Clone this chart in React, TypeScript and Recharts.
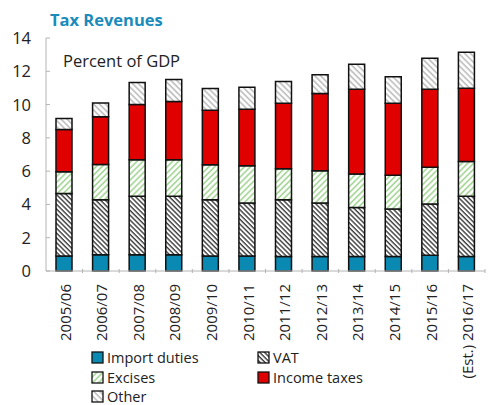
import {
  ComposedChart,
  Bar,
  XAxis,
  YAxis,
  Legend,
} from "recharts";

const years = [
  "2005/06",
  "2006/07",
  "2007/08",
  "2008/09",
  "2009/10",
  "2010/11",
  "2011/12",
  "2012/13",
  "2013/14",
  "2014/15",
  "2015/16",
  "(Est.) 2016/17",
];

const importDuties = [0.9, 0.97, 0.97, 0.97, 0.9, 0.9, 0.87, 0.87, 0.87, 0.87, 0.95, 0.87];
const vat = [3.75, 3.31, 3.52, 3.52, 3.38, 3.18, 3.41, 3.21, 2.95, 2.85, 3.07, 3.62];
const excises = [1.31, 2.12, 2.19, 2.19, 2.1, 2.24, 1.86, 1.95, 2.01, 2.03, 2.22, 2.09];
const incomeTaxes = [2.54, 2.87, 3.32, 3.5, 3.28, 3.4, 3.94, 4.63, 5.09, 4.33, 4.68, 4.4];
const other = [0.67, 0.83, 1.33, 1.32, 1.3, 1.32, 1.31, 1.13, 1.51, 1.59, 1.86, 2.16];

const yTicks = [0, 2, 4, 6, 8, 10, 12, 14];

const chartData = years.map((year, i) => ({
  year,
  importDuties: importDuties[i],
  vat: vat[i],
  excises: excises[i],
  incomeTaxes: incomeTaxes[i],
  other: other[i],
}));

const FONT = "'Open Sans', sans-serif";
const AXIS = "#b4b4b4";
const TEAL = "#0a8ab2";
const RED = "#e00000";
const BAND = (485 - 46) / years.length;

const legendItems = [
  { label: "Import duties", fill: TEAL },
  { label: "VAT", fill: "url(#vatPat)" },
  { label: "Excises", fill: "url(#excPat)" },
  { label: "Income taxes", fill: RED },
  { label: "Other", fill: "url(#othPat)" },
];

function YTick(props: any) {
  const { x, y, payload } = props;
  return (
    <g>
      <line x1={x} x2={x + 4} y1={y} y2={y} stroke={AXIS} strokeWidth={1} />
      <text
        x={x - 15}
        y={y}
        dy="0.36em"
        textAnchor="end"
        fontSize={16.5}
        fontFamily={FONT}
        fill="#222"
      >
        {payload.value}
      </text>
    </g>
  );
}

function XTick(props: any) {
  const { x, y, payload } = props;
  return (
    <g>
      <line x1={x + BAND / 2} x2={x + BAND / 2} y1={y} y2={y - 4} stroke={AXIS} strokeWidth={1} />
      <text
        x={0}
        y={0}
        transform={`translate(${x + 1},${y + 11}) rotate(-90)`}
        dy="0.36em"
        textAnchor="end"
        fontSize={15}
        fontFamily={FONT}
        fill="#222"
      >
        {payload.value}
      </text>
    </g>
  );
}

function LegendBox() {
  return (
    <div
      style={{
        display: "grid",
        gridTemplateColumns: "166px 180px",
        fontFamily: FONT,
        fontSize: 14.5,
        color: "#222",
        lineHeight: "19.5px",
      }}
    >
      {legendItems.map((item) => (
        <div key={item.label} style={{ display: "flex", alignItems: "center", whiteSpace: "nowrap", height: 19.5 }}>
          <svg width={13} height={13} style={{ marginRight: 3 }}>
            <rect x={1} y={1} width={11} height={11} fill={item.fill} stroke="#111" strokeWidth={1.3} />
          </svg>
          {item.label}
        </div>
      ))}
    </div>
  );
}

export default function App() {
  return (
    <div style={{ position: "absolute", left: 0, top: 0, width: 491, height: 405, background: "#fff", overflow: "hidden" }}>
      <div
        style={{
          position: "absolute",
          left: 50,
          top: 8,
          fontFamily: FONT,
          fontWeight: 700,
          fontSize: 16.5,
          color: "#1a8bbb",
        }}
      >
        Tax Revenues
      </div>
      <div
        style={{
          position: "absolute",
          left: 63,
          top: 49,
          fontFamily: FONT,
          fontSize: 16.5,
          color: "#222",
          zIndex: 2,
        }}
      >
        Percent of GDP
      </div>
      <ComposedChart
        width={491}
        height={405}
        data={chartData}
        margin={{ top: 38, right: 6, left: 0, bottom: 0 }}
        barSize={16}
      >
        <defs>
          <pattern id="vatPat" patternUnits="userSpaceOnUse" width={3.4} height={3.4} patternTransform="rotate(-45)">
            <rect width={3.4} height={3.4} fill="#fff" />
            <line x1={1} y1={0} x2={1} y2={3.4} stroke="#3a3a3a" strokeWidth={1.4} />
          </pattern>
          <pattern id="excPat" patternUnits="userSpaceOnUse" width={4.2} height={4.2} patternTransform="rotate(45)">
            <rect width={4.2} height={4.2} fill="#fff" />
            <line x1={1} y1={0} x2={1} y2={4.2} stroke="#a3d494" strokeWidth={1.6} />
          </pattern>
          <pattern id="othPat" patternUnits="userSpaceOnUse" width={4.2} height={4.2} patternTransform="rotate(-45)">
            <rect width={4.2} height={4.2} fill="#fff" />
            <line x1={1} y1={0} x2={1} y2={4.2} stroke="#bcbcbc" strokeWidth={1.6} />
          </pattern>
        </defs>
        <XAxis
          dataKey="year"
          interval={0}
          height={134}
          stroke={AXIS}
          tickLine={false}
          tickSize={0}
          tick={<XTick />}
        />
        <XAxis xAxisId="top" dataKey="year" orientation="top" height={0} stroke={AXIS} tick={false} tickLine={false} />
        <YAxis
          domain={[0, 14]}
          ticks={yTicks}
          width={46}
          stroke={AXIS}
          tickLine={false}
          tickSize={0}
          tickMargin={0}
          tick={<YTick />}
        />
        <YAxis yAxisId="right" orientation="right" width={0} domain={[0, 14]} stroke={AXIS} tick={false} tickLine={false} />
        <Bar dataKey="importDuties" stackId="a" fill={TEAL} stroke="#111" strokeWidth={1.5} isAnimationActive={false} />
        <Bar dataKey="vat" stackId="a" fill="url(#vatPat)" stroke="#111" strokeWidth={1.5} isAnimationActive={false} />
        <Bar dataKey="excises" stackId="a" fill="url(#excPat)" stroke="#111" strokeWidth={1.5} isAnimationActive={false} />
        <Bar dataKey="incomeTaxes" stackId="a" fill={RED} stroke="#111" strokeWidth={1.5} isAnimationActive={false} />
        <Bar dataKey="other" stackId="a" fill="url(#othPat)" stroke="#111" strokeWidth={1.5} isAnimationActive={false} />
        <Legend
          layout="horizontal"
          verticalAlign="middle"
          align="center"
          content={<LegendBox />}
          wrapperStyle={{ left: 91, top: 348, width: 350 }}
        />
      </ComposedChart>
    </div>
  );
}
